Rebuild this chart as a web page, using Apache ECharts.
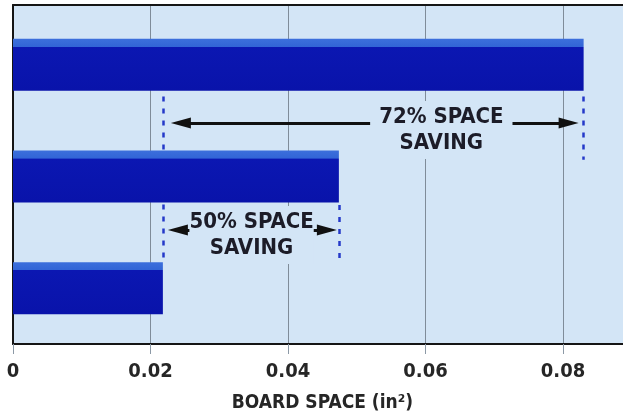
<!DOCTYPE html>
<html>
<head>
<meta charset="utf-8">
<script src="https://cdn.jsdelivr.net/npm/echarts@6/dist/echarts.min.js"></script>
<style>
  html, body { margin: 0; padding: 0; background: #ffffff; }
  #chart { width: 623px; height: 413px; }
</style>
</head>
<body>
<div id="chart"></div>
<script>
// Board area of three package options (in²), top to bottom
const categories = ['Package A', 'Package B', 'Package C'];
const boardSpace = [0.083, 0.0474, 0.0218];

// X axis scale
const xMin = 0;
const xMax = 0.09;
const xStep = 0.02;
const axisTitle = 'BOARD SPACE (in²)';

// Savings callouts
const savingLabels = ['72% SPACE\nSAVING', '50% SPACE\nSAVING'];

const FONT = "'Liberation Sans Narrow', 'DejaVu Sans Condensed', 'Roboto', sans-serif";
const PLOT_BG = '#d3e5f6';
const GRID_LEFT = 13, GRID_TOP = 5, GRID_H = 339;
const PX_PER_STEP = 137.5;
const GRID_W = (xMax - xMin) / xStep * PX_PER_STEP;
const px = v => v * xStep / PX_PER_STEP;   // pixel length -> data length

const chart = echarts.init(document.getElementById('chart'), null, { renderer: 'canvas' });

const big = boardSpace[0], mid = boardSpace[1], small = boardSpace[2];
const headLen = 20, headW = 11;
const headCenter = gap => px(gap + headLen / 2);   // head centre, set back from a guide line

// Dashed guide lines dropped from bar ends (y in band units, 0..3)
const guides = [
  { coords: [[small, 0.81], [small, 2.27]] },
  { coords: [[big, 0.81], [big, 1.37]] },
  { coords: [[mid, 1.77], [mid, 2.24]] }
];
const arrowY = [1.044, 1.991];
const arrowEnds = [
  [small + headCenter(8), big - headCenter(5)],
  [small + headCenter(5), mid - headCenter(2)]
];
const shafts = arrowEnds.map((e, i) => ({ coords: [[e[0], arrowY[i]], [e[1], arrowY[i]]] }));
const heads = [];
arrowEnds.forEach((e, i) => {
  heads.push({ value: [e[0], arrowY[i]], symbolRotate: 90 });
  heads.push({ value: [e[1], arrowY[i]], symbolRotate: -90 });
});
const labels = [
  { name: savingLabels[0], value: [0.0623, 1.106], label: { padding: [3, 9, 3, 9] } },
  { name: savingLabels[1], value: [0.0347, 2.035], label: { padding: [3, 0, 3, 0] } }
];

const barColor = new echarts.graphic.LinearGradient(0, 0, 0, 1, [
  { offset: 0, color: '#3c6fdc' },
  { offset: 0.15, color: '#3265d6' },
  { offset: 0.16, color: '#0b17b2' },
  { offset: 1, color: '#0913aa' }
]);

const textStyle = { fontFamily: FONT, fontWeight: 'bold', color: '#262626' };
const hiddenX = { type: 'value', min: xMin, max: xMax, show: false };

chart.setOption({
  animation: false,
  backgroundColor: '#ffffff',
  grid: [
    {
      left: GRID_LEFT, top: GRID_TOP, width: GRID_W, height: GRID_H,
      show: true, backgroundColor: PLOT_BG, borderWidth: 0,
      containLabel: false, outerBoundsMode: 'none'
    },
    // band layout for the bars
    {
      left: GRID_LEFT, top: 9, width: GRID_W, height: 335,
      containLabel: false, outerBoundsMode: 'none'
    }
  ],
  xAxis: [
    {
      gridIndex: 0, type: 'value', min: xMin, max: xMax, interval: xStep, position: 'bottom',
      axisLine: { show: true, onZero: false, lineStyle: { color: '#151515', width: 2 } },
      axisTick: { show: true, length: 10, lineStyle: { color: '#8c99a6', width: 1 } },
      splitLine: { show: true, lineStyle: { color: '#7f8c99', width: 1 } },
      axisLabel: Object.assign({
        show: true, margin: 18, showMaxLabel: false, fontSize: 20,
        formatter: v => (v === 0 ? '0' : v.toFixed(2))
      }, textStyle),
      name: axisTitle, nameLocation: 'middle', nameGap: 50,
      nameTextStyle: Object.assign({ fontSize: 19 }, textStyle)
    },
    {
      gridIndex: 0, type: 'value', min: xMin, max: xMax, position: 'top',
      axisLine: { show: true, onZero: false, lineStyle: { color: '#151515', width: 2 } },
      axisTick: { show: false }, axisLabel: { show: false }, splitLine: { show: false }
    },
    Object.assign({ gridIndex: 1 }, hiddenX)
  ],
  yAxis: [
    {
      gridIndex: 0, type: 'value', min: 0, max: 3, inverse: true,
      axisLine: { show: true, onZero: false, lineStyle: { color: '#151515', width: 2 } },
      axisTick: { show: false }, axisLabel: { show: false }, splitLine: { show: false }
    },
    {
      gridIndex: 1, type: 'category', data: categories, inverse: true, show: false
    }
  ],
  series: [
    {
      type: 'lines', coordinateSystem: 'cartesian2d', xAxisIndex: 0, yAxisIndex: 0,
      z: 2, silent: true, symbol: 'none',
      lineStyle: { color: '#2438c8', width: 2.5, type: [5, 7], opacity: 1, curveness: 0 },
      data: guides
    },
    {
      type: 'bar', xAxisIndex: 2, yAxisIndex: 1, z: 3, silent: true,
      barWidth: 52, data: boardSpace,
      itemStyle: { color: barColor }
    },
    {
      type: 'lines', coordinateSystem: 'cartesian2d', xAxisIndex: 0, yAxisIndex: 0,
      z: 4, silent: true, symbol: 'none',
      lineStyle: { color: '#111111', width: 3, opacity: 1, curveness: 0 },
      data: shafts
    },
    {
      type: 'scatter', xAxisIndex: 0, yAxisIndex: 0, z: 4, silent: true,
      symbol: 'triangle', symbolSize: [headW, headLen],
      itemStyle: { color: '#111111', opacity: 1 },
      data: heads
    },
    {
      type: 'scatter', xAxisIndex: 0, yAxisIndex: 0, z: 5, silent: true,
      symbolSize: 0, itemStyle: { opacity: 1 },
      label: Object.assign({
        show: true, position: 'inside', formatter: p => p.name,
        fontSize: 22, lineHeight: 26, align: 'center',
        backgroundColor: PLOT_BG
      }, textStyle, { color: '#1c1c28' }),
      data: labels
    }
  ]
});
</script>
</body>
</html>
